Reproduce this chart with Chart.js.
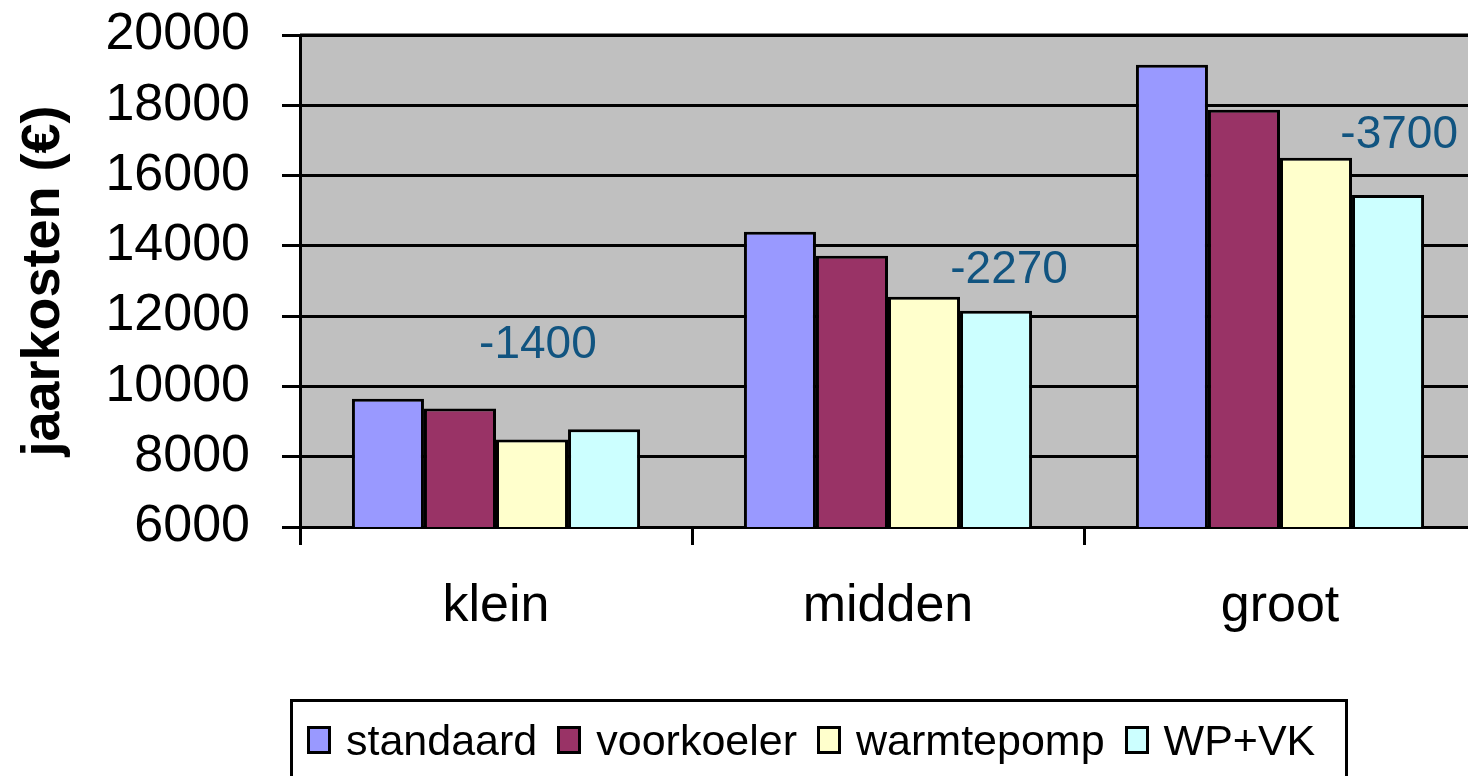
<!DOCTYPE html>
<html>
<head>
<meta charset="utf-8">
<script src="https://cdn.jsdelivr.net/npm/chart.js@4"></script>
<style>
  body { margin: 0; background: #fff; overflow: hidden; font-family: "Liberation Sans", Arial, sans-serif; }
  #wrap { position: relative; width: 1480px; height: 776px; }
  #legend {
    position: absolute; left: 290px; top: 699px; width: 1058px; height: 100px;
    border: 3px solid #000; box-sizing: border-box; display: flex; align-items: flex-start;
    padding-left: 14px; padding-top: 24px;
  }
  .item { display: flex; align-items: center; margin-right: 20px; height: 28px; }
  .sw { width: 24px; height: 28px; border: 3px solid #000; box-sizing: border-box; margin-right: 15px; }
  .lbl { font-size: 43px; color: #000; line-height: 28px; }
</style>
</head>
<body>
<div id="wrap">
  <canvas id="c" width="1480" height="776"></canvas>
  <div id="legend"></div>
</div>
<script>
const categories = ['klein', 'midden', 'groot'];
const seriesNames = ['standaard', 'voorkoeler', 'warmtepomp', 'WP+VK'];
const standaard = [9650, 14400, 19150];
const voorkoeler = [9370, 13720, 17870];
const warmtepomp = [8490, 12550, 16510];
const wpvk = [8780, 12150, 15450];
const diffLabels = ['-1400', '-2270', '-3700'];
const colors = ['#9999FF', '#993366', '#FFFFCC', '#CCFFFF'];

const FONT = '"Liberation Sans", Arial, sans-serif';

const plotBg = {
  id: 'plotBg',
  beforeDraw(chart) {
    const { ctx, chartArea: a } = chart;
    ctx.save();
    ctx.fillStyle = '#C0C0C0';
    ctx.fillRect(a.left, a.top, a.right - a.left, a.bottom - a.top);
    ctx.strokeStyle = '#808080';
    ctx.lineWidth = 2;
    ctx.beginPath();
    ctx.moveTo(a.left, a.top - 1);
    ctx.lineTo(a.right, a.top - 1);
    ctx.stroke();
    ctx.restore();
  }
};

// difference labels, anchored on the category scale and value scale
const diffText = {
  id: 'diffText',
  afterDatasetsDraw(chart, args, opts) {
    const { ctx, scales } = chart;
    const catW = scales.x.getPixelForValue(1) - scales.x.getPixelForValue(0);
    ctx.save();
    ctx.font = '46px ' + FONT;
    ctx.fillStyle = '#115480';
    ctx.textAlign = 'center';
    ctx.textBaseline = 'middle';
    diffLabels.forEach((t, i) => {
      const x = scales.x.getPixelForValue(i) + opts.dx[i] * catW;
      const y = scales.y.getPixelForValue(opts.at[i]);
      ctx.fillText(t, x, y);
    });
    ctx.restore();
  }
};

const values = [standaard, voorkoeler, warmtepomp, wpvk];

new Chart(document.getElementById('c'), {
  type: 'bar',
  data: {
    labels: categories,
    datasets: seriesNames.map((n, i) => ({
      label: n,
      data: values[i],
      backgroundColor: colors[i],
      borderColor: '#000',
      borderWidth: 3,
      borderSkipped: 'bottom',
      categoryPercentage: 0.735,
      barPercentage: 1.0
    }))
  },
  options: {
    responsive: false,
    animation: false,
    layout: { padding: { top: 35, right: 4, bottom: 0, left: 0 } },
    plugins: {
      legend: { display: false },
      tooltip: { enabled: false },
      diffText: { dx: [0.107, 0.309, 0.304], at: [11180, 13310, 17150] }
    },
    scales: {
      x: {
        grid: { offset: true, drawOnChartArea: false, drawTicks: true, tickLength: 18, tickColor: '#000', lineWidth: 3 },
        border: { color: '#000', width: 3 },
        ticks: { color: '#000', font: { family: FONT, size: 52 }, padding: 30 },
        afterFit: s => { s.height = 249; }
      },
      y: {
        min: 6000, max: 20000,
        grid: { color: '#000', lineWidth: 3, tickLength: 18, tickColor: '#000' },
        border: { color: '#000', width: 3 },
        ticks: { stepSize: 2000, color: '#000', font: { family: FONT, size: 52 }, padding: 32, callback: v => String(v) },
        title: {
          display: true, text: 'jaarkosten (€)', color: '#000',
          font: { family: FONT, size: 54, weight: 'bold', lineHeight: 1.2 },
          padding: { top: 12, bottom: 0 }
        },
        afterFit: s => { s.width = 300; s.paddingTop = 0; s.paddingBottom = 0; }
      }
    }
  },
  plugins: [plotBg, diffText]
});

const legend = document.getElementById('legend');
seriesNames.forEach((n, i) => {
  const it = document.createElement('div');
  it.className = 'item';
  it.innerHTML = `<div class="sw" style="background:${colors[i]}"></div><span class="lbl">${n}</span>`;
  legend.appendChild(it);
});
</script>
</body>
</html>
